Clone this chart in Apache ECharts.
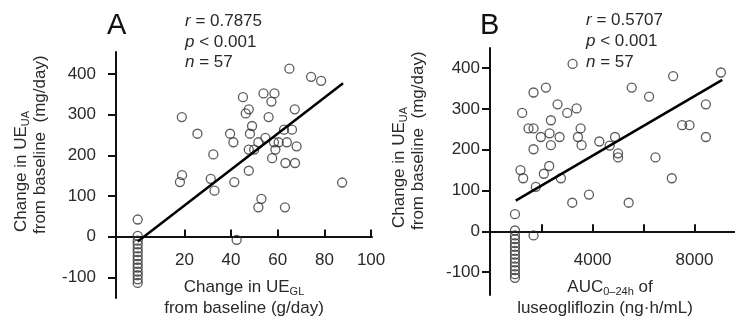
<!DOCTYPE html>
<html><head><meta charset="utf-8">
<script src="https://cdn.jsdelivr.net/npm/echarts@6/dist/echarts.min.js"></script>
<style>html,body{margin:0;padding:0;background:#fff}#c{width:735px;height:322px}</style>
</head><body><div id="c"></div>
<script>
// Panel A: change in UE_GL (g/day) vs change in UE_UA (mg/day)
const pointsA = [[65,413],[74.3,393],[78.6,383],[53.9,352],[58.6,352],[45.1,343],[57.3,332],[47.6,313],[46.3,303],[67.3,313],[18.9,294],[56.1,294],[49,272],[62.7,263],[66.1,263],[25.6,253],[39.6,253],[48.1,253],[54.7,243],[41,232],[51.7,232],[58.4,232],[60.4,232],[63.9,232],[68.1,222],[47.6,214],[49.9,214],[59,214],[32.4,202],[57.6,193],[63.3,181],[67.4,181],[47.6,162],[19,151],[18.1,134],[31.3,142],[41.4,134],[32.9,113],[87.6,133],[53,93],[51.7,72],[63.1,72],[42.4,-8]];
// Panel B: AUC0-24h (ng·h/mL) vs change in UE_UA (mg/day)
const pointsB = [[3213,410],[9036,389],[7161,380],[5534,352],[2164,352],[1679,340],[6216,330],[2623,311],[8446,311],[3370,301],[1233,290],[3003,290],[2361,272],[1482,252],[1679,252],[3528,252],[7515,260],[7803,260],[2308,240],[1967,231],[2702,231],[3423,231],[4879,231],[8446,231],[2361,211],[3567,211],[4262,220],[4669,210],[1679,201],[4997,191],[4997,181],[6466,181],[1167,150],[1272,130],[2295,160],[2085,141],[1770,109],[2754,130],[7108,130],[3856,90],[3200,70],[5416,70],[1679,-10]];
// Placebo subjects (same y in both panels)
const placeboY = [42,2,-10,-19,-29,-38,-48,-57,-67,-76,-86,-95,-105,-114];
const placeboXA = 0;
const placeboXB = 950;
// Regression lines (end points)
const fitA = [[0,-12],[88,377]];
const fitB = [[980,75],[9090,371]];
// Ticks
const yTicks = [-100,0,100,200,300,400];
const xTicksA = [20,40,60,80,100];
const xTicksB = [2000,4000,6000,8000];
const xLabelsB = [4000,8000];

const FONT = "'Liberation Sans', Arial, sans-serif";
const TXT = '#2a2a2a';
const AX = '#111';

const dataA = pointsA.concat(placeboY.map(y => [placeboXA, y]));
const dataB = pointsB.concat(placeboY.map(y => [placeboXB, y]));

// grid geometry (layout only)
const gA = {left: 116, top: 52, width: 256, height: 246};
const gB = {left: 490, top: 48, width: 245, height: 247};
const yRangeA = [-151, 454];
const yRangeB = [-156, 449];
// distance (px) from grid bottom up to the y = 0 line, derived from the y scale
function zeroOffset(g, r) { return -(g.height * (0 - r[0]) / (r[1] - r[0])); }

function xAxisOf(grid, min, max, ticks, labels, margin, offset) {
  return {
    gridIndex: grid, type: 'value', min: min, max: max, position: 'bottom', offset: offset,
    axisLine: {onZero: false, lineStyle: {color: AX, width: 2}},
    axisTick: {inside: true, length: 7, customValues: ticks, lineStyle: {color: AX, width: 2}},
    axisLabel: {customValues: labels, margin: margin, fontSize: 17, color: TXT, fontFamily: FONT,
                formatter: v => String(v)},
    splitLine: {show: false}
  };
}
function yAxisOf(grid, r, margin) {
  return {
    gridIndex: grid, type: 'value', min: r[0], max: r[1],
    axisLine: {show: true, onZero: false, lineStyle: {color: AX, width: 2}},
    axisTick: {show: true, inside: false, length: 8, customValues: yTicks, lineStyle: {color: AX, width: 2}},
    axisLabel: {customValues: yTicks, margin: margin, fontSize: 17, color: TXT, fontFamily: FONT,
                formatter: v => String(v)},
    splitLine: {show: false}
  };
}
const scatterStyle = {color: 'rgba(0,0,0,0)', borderColor: '#333', borderWidth: 1.3};

const richBase = {
  b: {fontSize: 17, fontFamily: FONT, fill: TXT, lineHeight: 20},
  s: {fontSize: 11, fontFamily: FONT, fill: TXT, lineHeight: 12, verticalAlign: 'bottom'},
  i: {fontSize: 17, fontFamily: FONT, fill: TXT, fontStyle: 'italic', lineHeight: 20},
  n: {fontSize: 17, fontFamily: FONT, fill: TXT, lineHeight: 20}
};
function txt(x, y, text, opts) {
  opts = opts || {};
  return {
    type: 'text', x: x, y: y, rotation: opts.rot || 0, silent: true,
    style: {text: text, align: opts.align || 'left', verticalAlign: 'middle', rich: richBase,
            fontSize: 17, fontFamily: FONT, fill: TXT}
  };
}

const chart = echarts.init(document.getElementById('c'), null, {renderer: 'canvas'});
chart.setOption({
  animation: false,
  backgroundColor: '#fff',
  grid: [gA, gB],
  xAxis: [
    xAxisOf(0, -9.3, 100.4, xTicksA, xTicksA, 15, zeroOffset(gA, yRangeA)),
    xAxisOf(1, -30, 9590, xTicksB, xLabelsB, 21, zeroOffset(gB, yRangeB))
  ],
  yAxis: [
    yAxisOf(0, yRangeA, 20),
    yAxisOf(1, yRangeB, 10)
  ],
  series: [
    {type: 'scatter', xAxisIndex: 0, yAxisIndex: 0, data: dataA, symbol: 'circle', symbolSize: 9, itemStyle: scatterStyle, emphasis: {disabled: true}, z: 2},
    {type: 'line', xAxisIndex: 0, yAxisIndex: 0, data: fitA, symbol: 'none', lineStyle: {color: '#000', width: 2.5}, z: 3},
    {type: 'scatter', xAxisIndex: 1, yAxisIndex: 1, data: dataB, symbol: 'circle', symbolSize: 9, itemStyle: scatterStyle, emphasis: {disabled: true}, z: 2},
    {type: 'line', xAxisIndex: 1, yAxisIndex: 1, data: fitB, symbol: 'none', lineStyle: {color: '#000', width: 2.5}, z: 3}
  ],
  graphic: [
    {type: 'text', x: 107, y: 26, silent: true, style: {text: 'A', fontSize: 29, fontFamily: FONT, fill: '#111', align: 'left', verticalAlign: 'middle'}},
    {type: 'text', x: 480, y: 26, silent: true, style: {text: 'B', fontSize: 29, fontFamily: FONT, fill: '#111', align: 'left', verticalAlign: 'middle'}},
    txt(185, 21, '{i|r}{n| = 0.7875}'),
    txt(185, 42, '{i|p}{n| < 0.001}'),
    txt(185, 62, '{i|n}{n| = 57}'),
    txt(586, 20, '{i|r}{n| = 0.5707}'),
    txt(586, 41, '{i|p}{n| < 0.001}'),
    txt(586, 62, '{i|n}{n| = 57}'),
    txt(21, 232, '{b|Change in UE}{s|UA}', {rot: Math.PI / 2}),
    txt(40, 234, '{b|from baseline  (mg/day)}', {rot: Math.PI / 2}),
    txt(399, 228, '{b|Change in UE}{s|UA}', {rot: Math.PI / 2}),
    txt(418, 230, '{b|from baseline  (mg/day)}', {rot: Math.PI / 2}),
    txt(244, 287, '{b|Change in UE}{s|GL}', {align: 'center'}),
    txt(244, 308, '{b|from baseline (g/day)}', {align: 'center'}),
    txt(610, 287, '{b|AUC}{s|0\u201324h}{b| of}', {align: 'center'}),
    txt(605, 308, '{b|luseogliflozin (ng\u00B7h/mL)}', {align: 'center'})
  ]
});
</script>
</body></html>
